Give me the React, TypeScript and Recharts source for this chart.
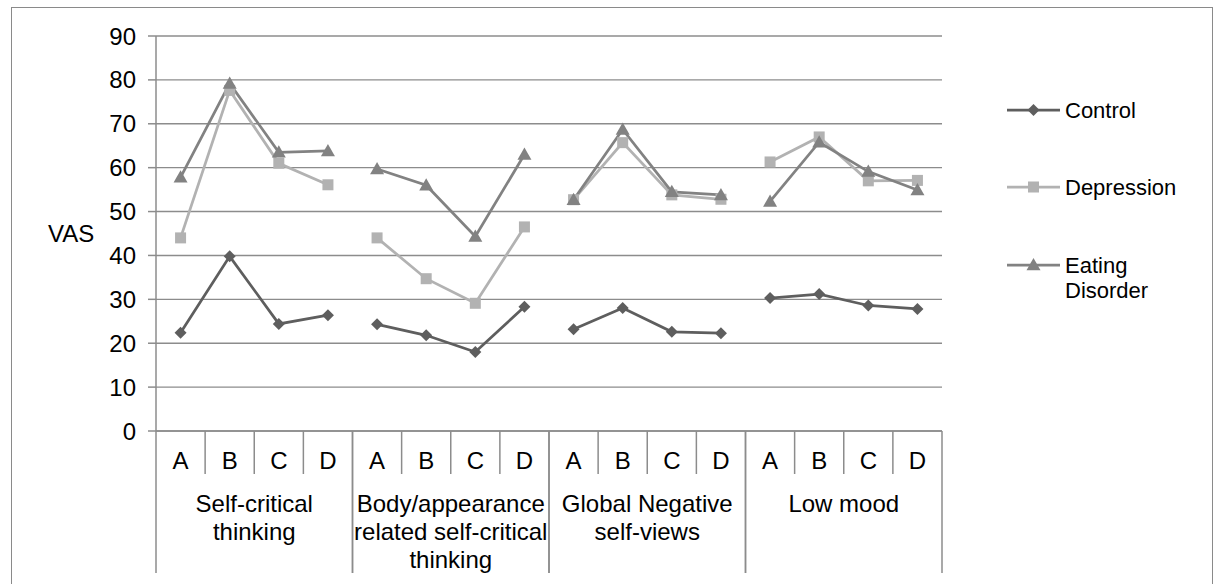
import React from 'react';
import { LineChart, Line, XAxis, YAxis, CartesianGrid } from 'recharts';

const groupLabels: string[][] = [
  ['Self-critical', 'thinking'],
  ['Body/appearance', 'related self-critical', 'thinking'],
  ['Global Negative', 'self-views'],
  ['Low mood'],
];
const conditions = ['A', 'B', 'C', 'D'];
const yTicks = [0, 10, 20, 30, 40, 50, 60, 70, 80, 90];

const control = [22.4, 39.8, 24.4, 26.4, 24.3, 21.8, 18.0, 28.3, 23.2, 28.0, 22.6, 22.3, 30.3, 31.2, 28.6, 27.8];
const depression = [44.0, 77.6, 61.0, 56.1, 44.0, 34.7, 29.1, 46.5, 52.7, 65.7, 53.8, 52.8, 61.3, 67.0, 57.0, 57.1];
const eating = [57.8, 79.2, 63.5, 63.8, 59.7, 56.0, 44.3, 63.0, 52.7, 68.7, 54.5, 53.8, 52.3, 65.8, 59.1, 54.9];

const seriesDefs = [
  { id: 'control', name: ['Control'], values: control, color: '#5e5e5e', shape: 'diamond' },
  { id: 'depression', name: ['Depression'], values: depression, color: '#b2b2b2', shape: 'square' },
  { id: 'eating', name: ['Eating', 'Disorder'], values: eating, color: '#828282', shape: 'triangle' },
];

const W = 1216;
const H = 584;
const MARGIN = { top: 36, right: 274, bottom: 0, left: 0 };
const YAXIS_W = 156;
const XAXIS_H = 153;
const N = control.length;
const PLOT_W = W - MARGIN.left - MARGIN.right - YAXIS_W;
const BW = PLOT_W / N;
const FONT = '"Liberation Sans", Arial, Helvetica, sans-serif';
const AXIS = '#8c8c8c';

const data = control.map((_, i) => {
  const g = Math.floor(i / 4);
  const row: any = { key: `${g}-${conditions[i % 4]}` };
  seriesDefs.forEach((s) => {
    row[`${s.id}${g}`] = s.values[i];
  });
  return row;
});

function Marker({ shape, cx, cy, color }: { shape: string; cx: number; cy: number; color: string }) {
  if (shape === 'diamond') {
    const r = 6;
    return <polygon points={`${cx},${cy - r} ${cx + r},${cy} ${cx},${cy + r} ${cx - r},${cy}`} fill={color} />;
  }
  if (shape === 'square') {
    const r = 5.5;
    return <rect x={cx - r} y={cy - r} width={2 * r} height={2 * r} fill={color} />;
  }
  const r = 7;
  return <polygon points={`${cx},${cy - r} ${cx + r},${cy + r * 0.75} ${cx - r},${cy + r * 0.75}`} fill={color} />;
}

function makeDot(shape: string, color: string) {
  return (p: any) => {
    if (p.cx == null || p.cy == null || p.value == null || Number.isNaN(p.cy)) return <g key={`e${p.index}`} />;
    return (
      <g key={`d${p.index}`}>
        <Marker shape={shape} cx={p.cx} cy={p.cy} color={color} />
      </g>
    );
  };
}

function CatTick(props: any) {
  const { x, y, index } = props;
  const pos = index % 4;
  const g = Math.floor(index / 4);
  const left = x - BW / 2;
  const right = x + BW / 2;
  return (
    <g>
      <text x={x} y={y + 38} textAnchor="middle" fontSize={24} fontFamily={FONT} fill="#000">
        {conditions[pos]}
      </text>
      {pos === 0 && <line x1={left} x2={left} y1={y} y2={y + 142} stroke={AXIS} strokeWidth={1.5} />}
      <line x1={right} x2={right} y1={y} y2={pos === 3 ? y + 142 : y + 43} stroke={AXIS} strokeWidth={1.5} />
      {pos === 0 &&
        groupLabels[g].map((t, k) => (
          <text key={k} x={x + 1.5 * BW} y={y + 81 + k * 28} textAnchor="middle" fontSize={24} fontFamily={FONT} fill="#000">
            {t}
          </text>
        ))}
    </g>
  );
}

function LegendOverlay() {
  const rows = [110, 187, 265];
  return (
    <svg width={W} height={H} style={{ position: 'absolute', left: 0, top: 0, pointerEvents: 'none' }}>
      {seriesDefs.map((s, i) => (
        <g key={s.id}>
          <line x1={1007} x2={1060} y1={rows[i]} y2={rows[i]} stroke={s.color} strokeWidth={2.75} />
          <Marker shape={s.shape} cx={1033.5} cy={rows[i]} color={s.color} />
          {s.name.map((t, k) => (
            <text key={k} x={1065} y={rows[i] + 8 + k * 25} fontSize={22} fontFamily={FONT} fill="#000">
              {t}
            </text>
          ))}
        </g>
      ))}
    </svg>
  );
}

export default function App() {
  const lines: React.ReactNode[] = [];
  seriesDefs.forEach((s) => {
    for (let g = 0; g < 4; g++) {
      lines.push(
        <Line
          key={`${s.id}${g}`}
          dataKey={`${s.id}${g}`}
          stroke={s.color}
          strokeWidth={2.75}
          dot={makeDot(s.shape, s.color)}
          activeDot={false}
          connectNulls={false}
          isAnimationActive={false}
          legendType="none"
        />
      );
    }
  });
  return (
    <div style={{ position: 'absolute', left: 0, top: 0, width: W, height: H, background: '#fff', overflow: 'hidden' }}>
      <div
        style={{
          position: 'absolute',
          left: 11,
          top: 7,
          width: 1202,
          height: 640,
          border: '1px solid #8a8a8a',
          boxSizing: 'border-box',
        }}
      />
      <div style={{ position: 'absolute', left: 0, top: 0 }}>
        <LineChart width={W} height={H} data={data} margin={MARGIN}>
          <CartesianGrid vertical={false} stroke={AXIS} strokeWidth={1.4} />
          <XAxis
            dataKey="key"
            type="category"
            interval={0}
            height={XAXIS_H}
            padding={{ left: BW / 2, right: BW / 2 }}
            tickSize={0}
            tickMargin={0}
            tickLine={false}
            axisLine={{ stroke: AXIS, strokeWidth: 1.5 }}
            tick={<CatTick />}
          />
          <YAxis
            width={YAXIS_W}
            domain={[0, 90]}
            ticks={yTicks}
            interval={0}
            tickSize={8}
            tickMargin={12}
            axisLine={{ stroke: AXIS, strokeWidth: 1.5 }}
            tickLine={{ stroke: AXIS, strokeWidth: 1.5 }}
            tick={{ fill: '#000', fontSize: 24, fontFamily: FONT }}
            label={{ value: 'VAS', position: 'insideLeft', offset: 48, fill: '#000', fontSize: 24, fontFamily: FONT }}
          />
          {lines}
        </LineChart>
      </div>
      <LegendOverlay />
    </div>
  );
}
